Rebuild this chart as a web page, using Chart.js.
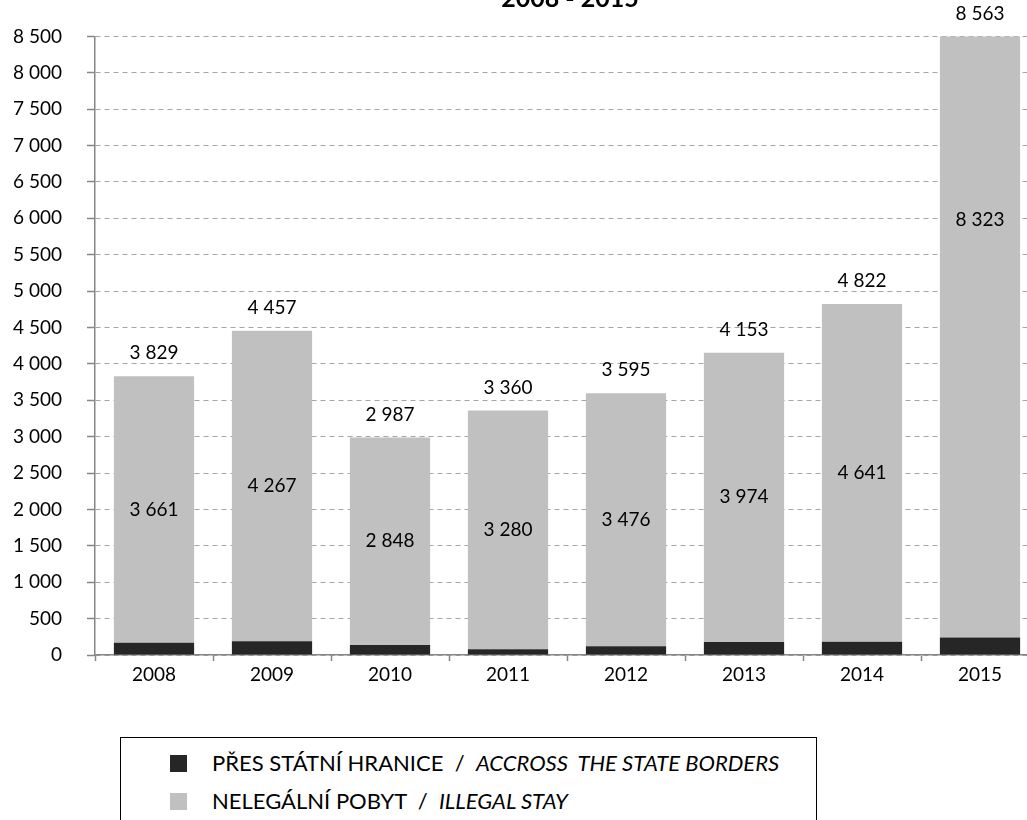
<!DOCTYPE html>
<html>
<head>
<meta charset="utf-8">
<script src="https://cdn.jsdelivr.net/npm/chart.js@4.4.1/dist/chart.umd.min.js"></script>
<style>
  html, body { margin: 0; padding: 0; background: #fff; overflow: hidden; width: 1027px; height: 820px; }
  #wrap { position: absolute; left: 0; top: 0; width: 1045px; height: 700px; }
  #legend { position: absolute; left: 120px; top: 737px; width: 697px; height: 120px; border: 1px solid #000; box-sizing: border-box; font-family: Lato, sans-serif; font-size: 22px; color: #000; }
  .row { position: absolute; left: 49px; height: 26px; line-height: 26px; white-space: pre; }
  .sw { display: inline-block; width: 17px; height: 17px; vertical-align: -1px; margin-right: 25px; }
  .it { font-style: italic; }
</style>
</head>
<body>
<div id="wrap"><canvas id="c" width="1045" height="700"></canvas></div>
<div id="legend"></div>
<script>
const years = ['2008', '2009', '2010', '2011', '2012', '2013', '2014', '2015'];
const borders = [168, 190, 139, 80, 119, 179, 181, 240];
const illegal = [3661, 4267, 2848, 3280, 3476, 3974, 4641, 8323];
const totals = [3829, 4457, 2987, 3360, 3595, 4153, 4822, 8563];
const yTicks = [0, 500, 1000, 1500, 2000, 2500, 3000, 3500, 4000, 4500, 5000, 5500, 6000, 6500, 7000, 7500, 8000, 8500];
const titleText = '2008 - 2015';
const seriesNames = [
  ['PŘES STÁTNÍ HRANICE  /  ', 'ACCROSS  THE STATE BORDERS'],
  ['NELEGÁLNÍ POBYT  /  ', 'ILLEGAL STAY']
];
const colors = ['#262626', '#c0c0c0'];

const fmt = v => String(v).replace(/\B(?=(\d{3})+(?!\d))/g, ' ');
const FONT = 'Lato, sans-serif';

const labelPlugin = {
  id: 'labels',
  afterDatasetsDraw(chart, args, opts) {
    const ctx = chart.ctx;
    const meta = chart.getDatasetMeta(1);
    const area = chart.chartArea;
    ctx.save();
    ctx.font = '19px ' + FONT;
    ctx.fillStyle = '#000';
    ctx.textAlign = 'center';
    ctx.textBaseline = 'middle';
    meta.data.forEach((bar, i) => {
      const top = bar.y, base = bar.base;
      const frac = (opts.segFrac && opts.segFrac[i] != null) ? opts.segFrac[i] : 0.5;
      const segY = base - (base - top) * frac;
      ctx.fillText(fmt(illegal[i]), bar.x, segY);
      const ty = Math.max(top, area.top) - 23;
      ctx.fillText(fmt(totals[i]), bar.x, ty);
    });
    // title
    ctx.font = 'bold 25px ' + FONT;
    ctx.textBaseline = 'alphabetic';
    ctx.fillText(titleText, (area.left + area.right) / 2 + 3, 7);
    ctx.restore();
  }
};

new Chart(document.getElementById('c'), {
  type: 'bar',
  data: {
    labels: years,
    datasets: [
      { label: seriesNames[0].join(''), data: borders, backgroundColor: colors[0], borderWidth: 0 },
      { label: seriesNames[1].join(''), data: illegal, backgroundColor: colors[1], borderWidth: 0 }
    ]
  },
  options: {
    responsive: false,
    animation: false,
    layout: { padding: { top: 35, right: 6, left: 0, bottom: 0 } },
    datasets: { bar: { barPercentage: 0.68, categoryPercentage: 1.0 } },
    plugins: {
      legend: { display: false },
      tooltip: { enabled: false },
      labels: { segFrac: { 7: 0.69 } }
    },
    scales: {
      x: {
        stacked: true,
        offset: true,
        grid: { display: true, drawOnChartArea: false, offset: true, tickLength: 6, tickColor: '#868686', tickWidth: 1.5 },
        border: { display: true, color: '#868686', width: 1.5 },
        ticks: { font: { family: FONT, size: 19 }, color: '#000', padding: 2 },
        afterFit(s) { s.height = 45; }
      },
      y: {
        stacked: true,
        min: 0,
        max: 8500,
        afterBuildTicks(s) { s.ticks = yTicks.map(v => ({ value: v })); },
        grid: { color: '#a6a6a6', lineWidth: 1, tickLength: 8, tickColor: '#868686', tickWidth: 1.5, tickBorderDash: [] },
        border: { display: true, color: '#868686', width: 1.5, dash: [5, 4] },
        ticks: { font: { family: FONT, size: 19 }, color: '#000', padding: 25, callback: v => fmt(v) },
        afterFit(s) { s.width = 95; }
      }
    }
  },
  plugins: [labelPlugin]
});

const lg = document.getElementById('legend');
seriesNames.forEach((n, i) => {
  const r = document.createElement('div');
  r.className = 'row';
  r.style.top = (i === 0 ? 12 : 50) + 'px';
  const sw = document.createElement('span');
  sw.className = 'sw';
  sw.style.background = colors[i];
  const a = document.createElement('span');
  a.textContent = n[0];
  const b = document.createElement('span');
  b.className = 'it';
  b.textContent = n[1];
  r.appendChild(sw); r.appendChild(a); r.appendChild(b);
  lg.appendChild(r);
});
</script>
</body>
</html>
